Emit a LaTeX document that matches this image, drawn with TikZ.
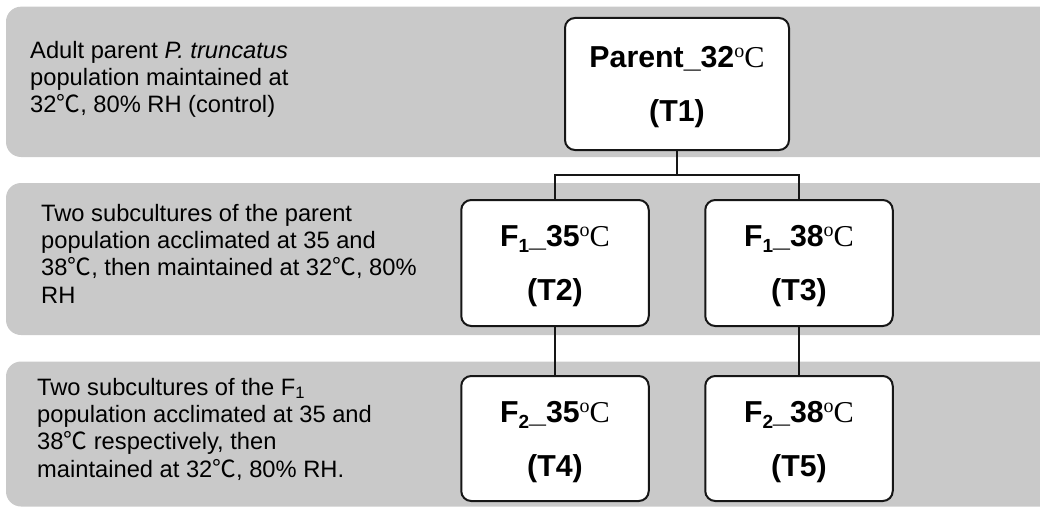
\documentclass[tikz,border=0pt]{standalone}
\usepackage{fontspec}
\setmainfont{Liberation Sans}
\newfontfamily\serifC{Liberation Serif}
\newfontfamily\cjk{Noto Sans CJK SC}
\newcommand{\dC}{{\cjk ℃}}
\newcommand{\boxdeg}{{\serifC\mdseries\raisebox{0.33em}{\fontsize{20}{20}\selectfont o}C}}
\newcommand{\boxsub}[1]{\raisebox{-6pt}{\fontsize{19}{19}\selectfont #1}}
\definecolor{bandgray}{RGB}{201,201,201}
\definecolor{boxline}{RGB}{22,22,22}
\tikzset{
  band/.style={fill=bandgray, rounded corners=15pt},
  tbox/.style={draw=boxline, line width=2pt, fill=white, rounded corners=10pt,
    inner sep=0pt, align=center, font=\fontsize{30.3}{54}\selectfont\bfseries},
  conn/.style={draw=boxline, line width=2pt},
  desc/.style={anchor=north west, inner sep=0pt, align=left,
    font=\fontsize{23.7}{27.3}\selectfont}
}
\begin{document}
\begin{tikzpicture}[x=1pt,y=-1pt]
\useasboundingbox (0,0) rectangle (1040,508);
\clip (0,0) rectangle (1040,508);
% bands
\fill[band] (6,6.7) rectangle (1080,157);
\fill[band] (6,183) rectangle (1080,335);
\fill[band] (6,361.5) rectangle (1080,506.5);
% descriptions
\node[desc] (d1) at (30,38.9) {\strut Adult parent \textit{P. truncatus}\\population maintained at\\32\dC, 80\% RH (control)};
\node[desc] (d2) at (41,201.9) {\strut Two subcultures of the parent\\population acclimated at 35 and\\38\dC, then maintained at 32\dC, 80\%\\RH};
\node[desc] (d3) at (37,375.9) {\strut Two subcultures of the F\textsubscript{1}\\population acclimated at 35 and\\38\dC\ respectively, then\\maintained at 32\dC, 80\% RH.};
% boxes
\node[tbox, minimum width=224pt, minimum height=132pt] (t1) at (677,84) {Parent\_32\boxdeg\\\smash{(T1)}};
\node[tbox, minimum width=187.5pt, minimum height=126pt] (t2) at (555,263) {F\boxsub{1}\_35\boxdeg\\\smash{(T2)}};
\node[tbox, minimum width=187.5pt, minimum height=126pt] (t3) at (799,263) {F\boxsub{1}\_38\boxdeg\\\smash{(T3)}};
\node[tbox, minimum width=187.5pt, minimum height=125pt] (t4) at (555,438.5) {F\boxsub{2}\_35\boxdeg\\\smash{(T4)}};
\node[tbox, minimum width=187.5pt, minimum height=125pt] (t5) at (799,438.5) {F\boxsub{2}\_38\boxdeg\\\smash{(T5)}};
% connectors
\coordinate (j) at (677,175);
\draw[conn] (t1.south) -- (j);
\draw[conn] (t2.north) |- (j) -| (t3.north);
\draw[conn] (t2.south) -- (t4.north);
\draw[conn] (t3.south) -- (t5.north);
\end{tikzpicture}
\end{document}
